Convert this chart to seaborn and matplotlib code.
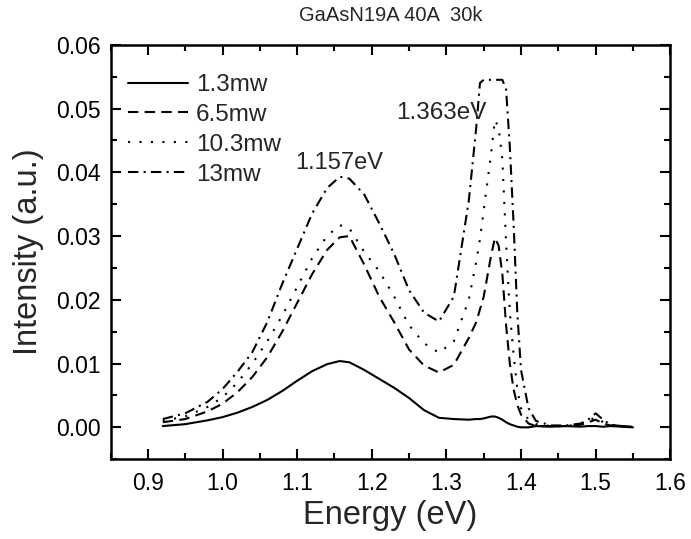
import matplotlib
matplotlib.use("Agg")
import matplotlib.pyplot as plt
import seaborn as sns
import pandas as pd
from matplotlib.ticker import MultipleLocator

energy = [0.92, 0.95, 0.98, 1.00, 1.02, 1.04, 1.06, 1.08, 1.10, 1.12, 1.14, 1.157,
          1.17, 1.19, 1.21, 1.23, 1.25, 1.27, 1.29, 1.31, 1.33, 1.34, 1.345, 1.35,
          1.36, 1.365, 1.37, 1.375, 1.38, 1.385, 1.39, 1.395, 1.40, 1.41, 1.42,
          1.44, 1.46, 1.48, 1.49, 1.50, 1.51, 1.52, 1.55]

p_1_3mw = [0.0002, 0.0005, 0.0011, 0.0016, 0.0023, 0.0032, 0.0043, 0.0057, 0.0073, 0.0088, 0.0099, 0.0104,
           0.0102, 0.0090, 0.0076, 0.0062, 0.0046, 0.0027, 0.0015, 0.0013, 0.0012, 0.0013, 0.0013, 0.0014,
           0.0017, 0.0017, 0.0015, 0.0012, 0.0008, 0.0005, 0.0003, 0.0001, 0.0000, 0.0000, 0.0002,
           0.0001, 0.0002, 0.0001, 0.0002, 0.0002, 0.0001, 0.0002, 0.0000]

p_6_5mw = [0.0008, 0.0013, 0.0025, 0.0037, 0.0055, 0.0079, 0.0110, 0.0150, 0.0195, 0.0240, 0.0278, 0.0298,
           0.0300, 0.0255, 0.0205, 0.0165, 0.0122, 0.0097, 0.0086, 0.0098, 0.0140, 0.0165, 0.0185, 0.0205,
           0.0270, 0.0297, 0.0285, 0.0240, 0.0160, 0.0100, 0.0060, 0.0035, 0.0020, 0.0006, 0.0002,
           0.0002, 0.0002, 0.0004, 0.0008, 0.0012, 0.0006, 0.0003, 0.0001]

p_10_3mw = [0.0010, 0.0017, 0.0032, 0.0047, 0.0070, 0.0100, 0.0135, 0.0175, 0.0220, 0.0265, 0.0300, 0.0317,
            0.0312, 0.0275, 0.0245, 0.0205, 0.0160, 0.0132, 0.0117, 0.0135, 0.0200, 0.0260, 0.0295, 0.0340,
            0.0430, 0.0482, 0.0470, 0.0420, 0.0290, 0.0180, 0.0115, 0.0060, 0.0030, 0.0012, 0.0005,
            0.0002, 0.0002, 0.0005, 0.0010, 0.0016, 0.0008, 0.0003, 0.0000]

p_13mw = [0.0013, 0.0022, 0.0040, 0.0060, 0.0087, 0.0118, 0.0165, 0.0225, 0.0280, 0.0335, 0.0375, 0.0393,
          0.0390, 0.0365, 0.0320, 0.0272, 0.0215, 0.0180, 0.0166, 0.0205, 0.0355, 0.0470, 0.0540, 0.0545,
          0.0545, 0.0545, 0.0545, 0.0545, 0.0530, 0.0440, 0.0320, 0.0180, 0.0090, 0.0030, 0.0010,
          0.0003, 0.0003, 0.0006, 0.0012, 0.0022, 0.0012, 0.0004, 0.0000]

labels = ["1.3mw", "6.5mw", "10.3mw", "13mw"]
series = [p_1_3mw, p_6_5mw, p_10_3mw, p_13mw]

frames = []
for lab, vals in zip(labels, series):
    frames.append(pd.DataFrame({"Energy": energy, "Intensity": vals, "Power": lab}))
df = pd.concat(frames, ignore_index=True)

sns.set_style("ticks")
plt.rcParams["font.family"] = ["Liberation Sans", "DejaVu Sans"]

fig = plt.figure(figsize=(6.91, 5.39), dpi=100)
ax = fig.add_axes([0.160, 0.148, 0.810, 0.769])

dash_map = {"1.3mw": "", "6.5mw": (5, 3), "10.3mw": (1, 4.5), "13mw": (5, 2.5, 1, 2.5)}
sns.lineplot(data=df, x="Energy", y="Intensity", hue="Power", style="Power",
             palette=["black"] * 4, dashes=dash_map, linewidth=1.5, ax=ax,
             legend=True)

ax.set_xlim(0.85, 1.6)
ax.set_ylim(-0.005, 0.06)
ax.xaxis.set_major_locator(MultipleLocator(0.1))
ax.xaxis.set_minor_locator(MultipleLocator(0.05))
ax.yaxis.set_major_locator(MultipleLocator(0.01))
ax.yaxis.set_minor_locator(MultipleLocator(0.005))
ax.xaxis.set_major_formatter(plt.FuncFormatter(lambda v, p: f"{v:.1f}"))
ax.yaxis.set_major_formatter(plt.FuncFormatter(lambda v, p: f"{v:.2f}"))
ax.tick_params(which="both", direction="in", top=True, right=True, width=1.5, colors="black",
               labelsize=16.5)
ax.tick_params(which="major", length=7)
ax.tick_params(which="minor", length=4)
ax.tick_params(axis="y", which="major", pad=7)
ax.tick_params(axis="x", which="major", pad=9)
for s in ax.spines.values():
    s.set_linewidth(1.8)
    s.set_color("black")

ax.set_xlabel("Energy (eV)", fontsize=23.5, labelpad=4)
ax.set_ylabel("Intensity (a.u.)", fontsize=23.5, labelpad=9)
ax.set_title("GaAsN19A 40A  30k", fontsize=14.5, pad=17)

ax.text(1.157, 0.0398, "1.157eV", fontsize=17, ha="center", va="bottom")
ax.text(1.293, 0.0475, "1.363eV", fontsize=17.5, ha="center", va="bottom")

handles, labs = ax.get_legend_handles_labels()
ax.legend(handles, labs, loc="upper left", frameon=False, fontsize=17.5, handlelength=2.5,
          handletextpad=0.3, labelspacing=0.32, borderaxespad=0.3, bbox_to_anchor=(0.0, 0.97))

fig.savefig("out.png", dpi=100)
